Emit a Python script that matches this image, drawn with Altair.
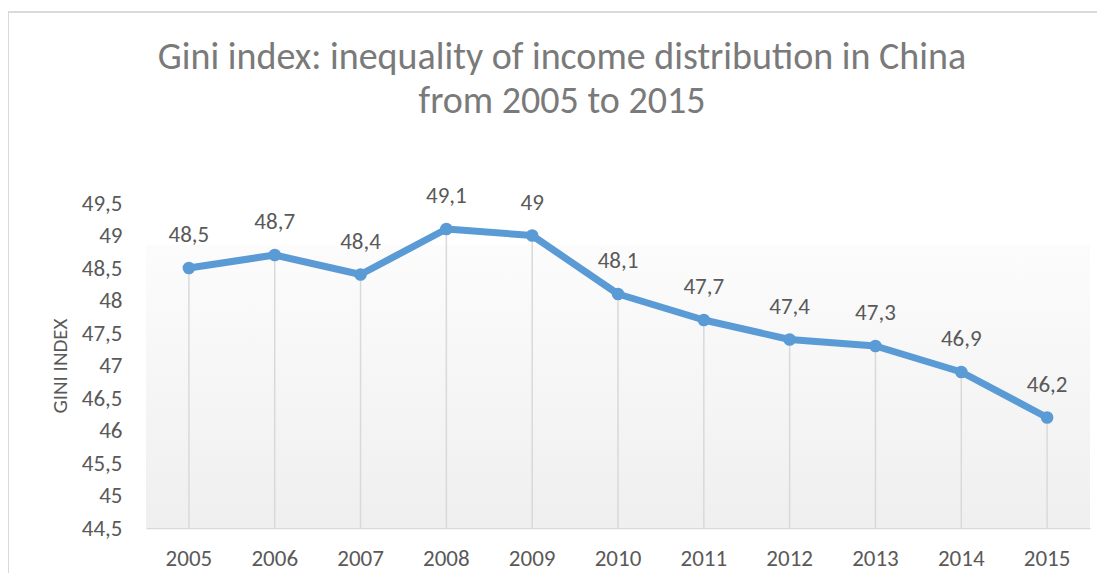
import altair as alt
import pandas as pd

years = ["2005", "2006", "2007", "2008", "2009", "2010", "2011", "2012", "2013", "2014", "2015"]
gini = [48.5, 48.7, 48.4, 49.1, 49.0, 48.1, 47.7, 47.4, 47.3, 46.9, 46.2]
y_ticks = [44.5, 45, 45.5, 46, 46.5, 47, 47.5, 48, 48.5, 49, 49.5]

df = pd.DataFrame({"year": years, "gini": gini})

W, H = 944, 325
FONT = "Carlito, Lato, sans-serif"
BLUE = "#5B9BD5"

x = alt.X("year:N", sort=years, title=None,
          scale=alt.Scale(paddingInner=0, paddingOuter=0),
          axis=alt.Axis(labelAngle=0, ticks=False, domain=True, domainColor="#d9d9d9",
                        domainWidth=1.5, grid=False, labelFontSize=23, labelColor="#595959",
                        labelPadding=19, labelFont=FONT))
y = alt.Y("gini:Q", title="GINI INDEX",
          scale=alt.Scale(domain=[44.5, 49.5], nice=False, zero=False),
          axis=alt.Axis(values=y_ticks, grid=False, ticks=False, domain=False,
                        labelExpr="replace(toString(datum.value), '.', ',')",
                        labelFontSize=23, labelColor="#595959", labelPadding=24, labelFont=FONT,
                        titleFontSize=21, titleColor="#595959", titleFontWeight="normal",
                        titlePadding=11, titleFont=FONT))

base = alt.Chart(df)

bg = base.mark_rect(
    fill=alt.Gradient(gradient="linear",
                      stops=[alt.GradientStop(color="#fcfcfc", offset=0),
                             alt.GradientStop(color="#efefef", offset=1)],
                      x1=0, y1=0, x2=0, y2=1)
).encode(x=alt.value(0), x2=alt.value(W), y=alt.value(42), y2=alt.value(H))

frame_top = base.mark_rule(color="#dadada", strokeWidth=2).encode(
    x=alt.value(-138), x2=alt.value(W + 40), y=alt.value(-191))
frame_left = base.mark_rule(color="#dadada", strokeWidth=2).encode(
    x=alt.value(-138), y=alt.value(-191), y2=alt.value(H + 80))

drops = base.mark_rule(color="#d9d9d9", strokeWidth=1.5).encode(
    x=x, y=y, y2=alt.datum(44.5))

line = base.mark_line(color=BLUE, strokeWidth=7, strokeCap="round", strokeJoin="round").encode(x=x, y=y)
pts = base.mark_circle(color=BLUE, size=160, opacity=1).encode(x=x, y=y)

labels = base.transform_calculate(
    lab="replace(toString(datum.gini), '.', ',')"
).mark_text(dy=-33, fontSize=23, color="#595959", font=FONT).encode(
    x=x, y=y, text="lab:N")

chart = alt.layer(bg, frame_top, frame_left, drops, line, pts, labels).properties(
    width=W, height=H,
    title=alt.TitleParams(
        text=["Gini index: inequality of income distribution in China", "from 2005 to 2015"],
        fontSize=38, font=FONT, color="#7a7a7a", fontWeight="normal",
        anchor="middle", dx=-56, lineHeight=44, offset=-110),
    padding={"left": 138, "top": 195, "right": 7, "bottom": 45},
    autosize=alt.AutoSizeParams(type="none"),
).configure_view(stroke=None)

chart.save("out.html", embed_options={"renderer": "svg", "actions": False})
